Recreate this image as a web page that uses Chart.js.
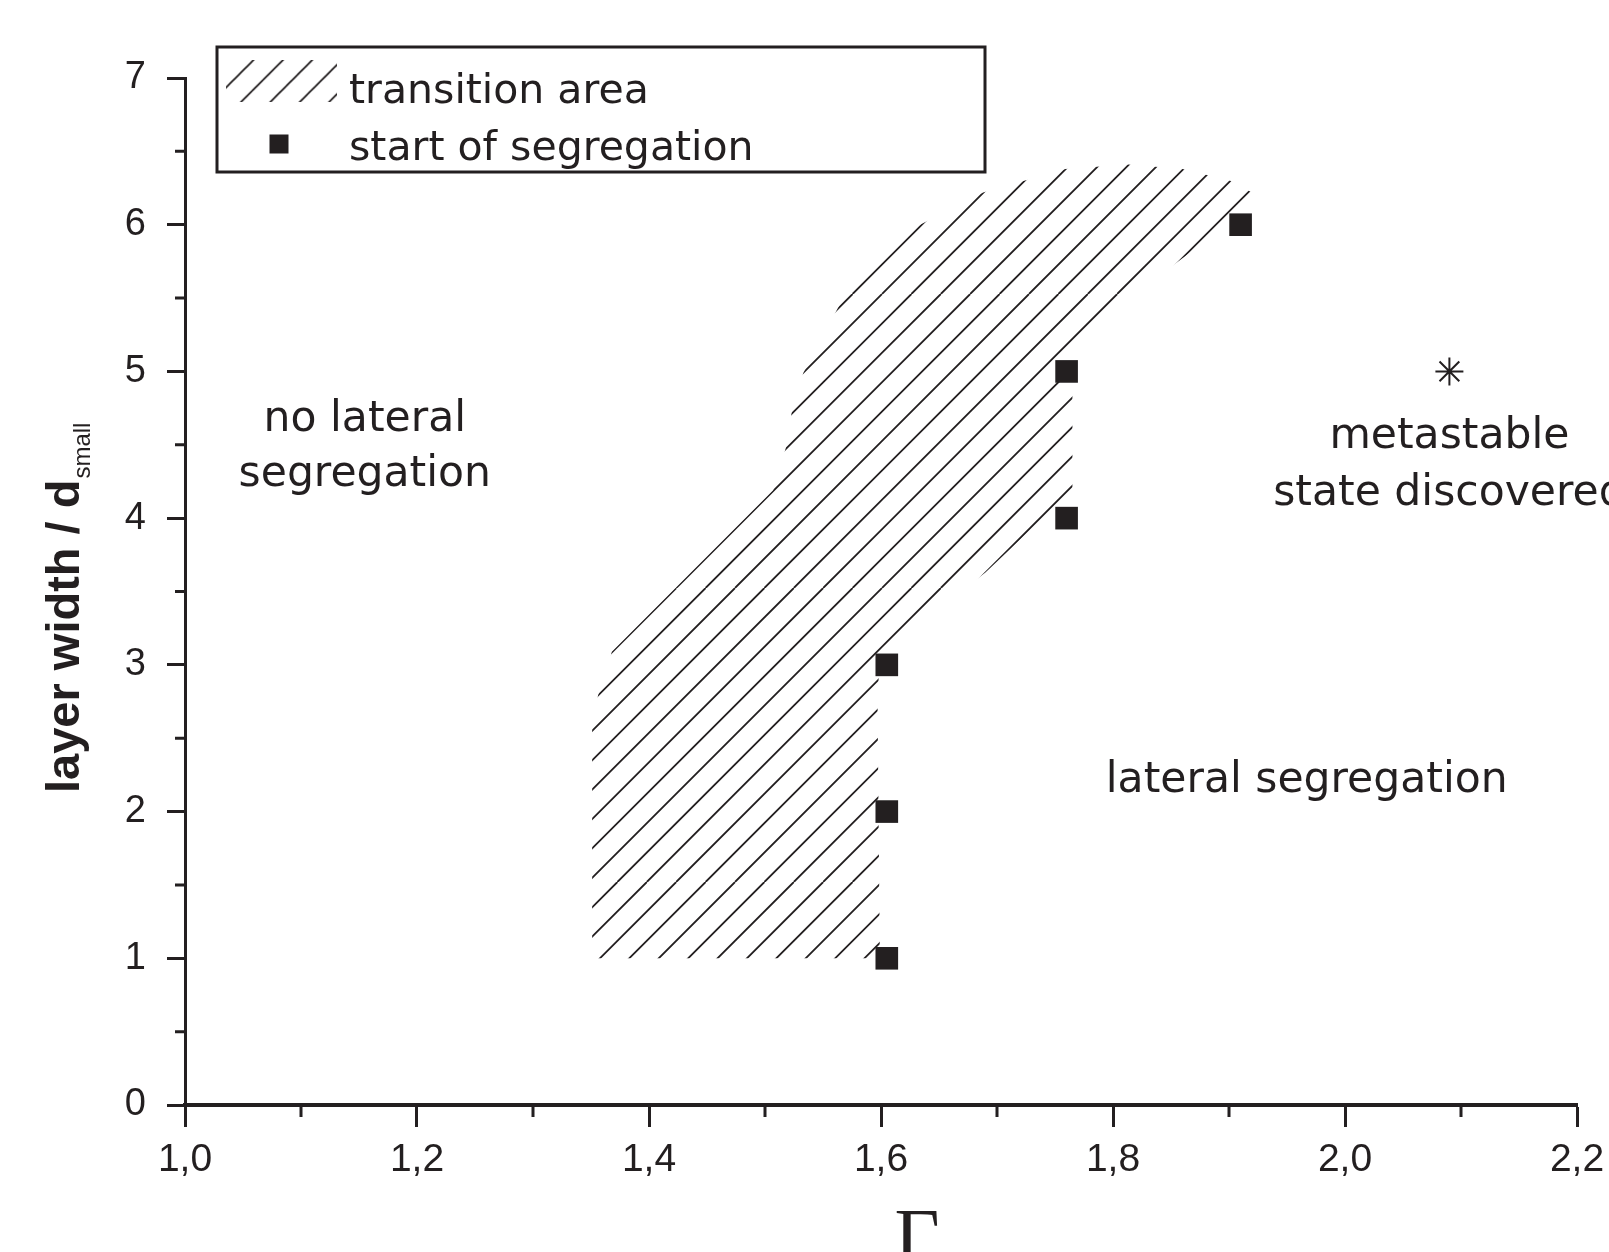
<!DOCTYPE html>
<html>
<head>
<meta charset="utf-8">
<script src="https://cdn.jsdelivr.net/npm/chart.js@4.4.1/dist/chart.umd.min.js"></script>
<style>
  html, body { margin: 0; padding: 0; background: #fff; }
  canvas { display: block; }
</style>
</head>
<body>
<canvas id="phaseChart" width="1609" height="1252"></canvas>
<script>
// --- values ---
const startGamma = [1.605, 1.605, 1.605, 1.76, 1.76, 1.91];
const startWidth = [1, 2, 3, 4, 5, 6];

const metastableGamma = [2.09];
const metastableWidth = [5];

// outline of the hatched transition area (clockwise from bottom-left)
const transitionGamma = [1.351, 1.351, 1.356, 1.368, 1.507, 1.518, 1.523, 1.533, 1.564, 1.624, 1.688, 1.759,
                         1.813, 1.860, 1.901, 1.929, 1.836, 1.753, 1.765, 1.765, 1.690, 1.599, 1.597, 1.599];
const transitionWidth = [1.00, 2.57, 2.79, 3.09, 4.19, 4.48, 4.72, 4.99, 5.45, 5.96, 6.22, 6.38,
                         6.41, 6.38, 6.30, 6.18, 5.63, 5.02, 4.94, 4.19, 3.63, 3.07, 2.76, 1.00];

const xMinorTicks = [1.1, 1.3, 1.5, 1.7, 1.9, 2.1];
const yMinorTicks = [0.5, 1.5, 2.5, 3.5, 4.5, 5.5, 6.5];

// region captions, placed in data coordinates (centre x, baseline y per line)
const captions = [
  { lines: ["no lateral", "segregation"], x: 1.155, y: [4.594, 4.219] },
  { lines: ["metastable", "state discovered"], x: 2.09, y: [4.478, 4.09] },
  { lines: ["lateral segregation"], x: 1.967, y: [2.134] }
];

const ink = "#231f20";
const textFont = '"DejaVu Sans", sans-serif';
const tickFont = '"Liberation Sans", Arial, sans-serif';

function makeHatch(ctx) {
  const size = 294, gap = 29.4;
  const c = document.createElement("canvas");
  c.width = size; c.height = size;
  const g = c.getContext("2d");
  g.strokeStyle = ink;
  g.lineWidth = 1.8;
  g.beginPath();
  for (let k = -11; k <= 11; k++) {
    g.moveTo(k * gap, size);
    g.lineTo(k * gap + size, 0);
  }
  g.stroke();
  return ctx.createPattern(c, "repeat");
}

const canvas = document.getElementById("phaseChart");
const hatch = makeHatch(canvas.getContext("2d"));

const extras = {
  id: "extras",
  afterDraw(chart) {
    const { ctx, scales: { x, y } } = chart;
    ctx.save();

    // minor ticks
    ctx.strokeStyle = ink;
    ctx.lineWidth = 3;
    ctx.beginPath();
    yMinorTicks.forEach(v => {
      const py = y.getPixelForValue(v);
      ctx.moveTo(y.right - 10, py);
      ctx.lineTo(y.right, py);
    });
    xMinorTicks.forEach(v => {
      const px = x.getPixelForValue(v);
      ctx.moveTo(px, x.top);
      ctx.lineTo(px, x.top + 12);
    });
    ctx.stroke();

    // captions
    ctx.fillStyle = ink;
    ctx.font = "42.5px " + textFont;
    ctx.textAlign = "center";
    ctx.textBaseline = "alphabetic";
    captions.forEach(c => {
      c.lines.forEach((t, i) => {
        ctx.fillText(t, x.getPixelForValue(c.x), y.getPixelForValue(c.y[i]));
      });
    });

    // legend box
    ctx.lineWidth = 3;
    ctx.strokeRect(217, 47, 768, 125);
    ctx.save();
    ctx.translate(19.5, 0);
    ctx.fillStyle = hatch;
    ctx.fillRect(226 - 19.5, 60, 111, 42);
    ctx.restore();
    ctx.fillStyle = ink;
    ctx.fillRect(279 - 9.5, 144 - 9.5, 19, 19);
    ctx.font = "41px " + textFont;
    ctx.textAlign = "left";
    ctx.fillText("transition area", 349, 103);
    ctx.fillText("start of segregation", 349, 160);

    // y axis title with subscript
    ctx.save();
    ctx.translate(79, 793);
    ctx.rotate(-Math.PI / 2);
    ctx.font = 'bold 47px "Liberation Sans", Arial, sans-serif';
    ctx.fillText("layer width / d", 0, 0);
    const w = ctx.measureText("layer width / d").width;
    ctx.font = '24px "Liberation Sans", Arial, sans-serif';
    ctx.fillText("small", w + 1, 11);
    ctx.restore();

    // x axis title
    ctx.font = '78px "Liberation Serif", "DejaVu Serif", serif';
    ctx.textAlign = "center";
    ctx.fillText("\u0393", 917, 1262);

    ctx.restore();
  }
};

new Chart(canvas, {
  type: "scatter",
  data: {
    datasets: [
      {
        label: "start of segregation",
        data: startGamma.map((g, i) => ({ x: g, y: startWidth[i] })),
        pointStyle: "rect",
        pointRadius: 16,
        pointHoverRadius: 16,
        backgroundColor: ink,
        borderColor: ink,
        borderWidth: 0
      },
      {
        label: "metastable state discovered",
        data: metastableGamma.map((g, i) => ({ x: g, y: metastableWidth[i] })),
        pointStyle: "star",
        pointRadius: 14,
        pointHoverRadius: 14,
        borderColor: ink,
        backgroundColor: ink,
        borderWidth: 2
      },
      {
        type: "line",
        label: "transition area",
        data: transitionGamma.map((g, i) => ({ x: g, y: transitionWidth[i] })),
        fill: "shape",
        backgroundColor: hatch,
        borderColor: "rgba(0,0,0,0)",
        borderWidth: 0,
        pointRadius: 0,
        tension: 0
      }
    ]
  },
  options: {
    responsive: false,
    animation: false,
    devicePixelRatio: 1,
    layout: { padding: { top: 78, right: 32, left: 0, bottom: 0 } },
    plugins: {
      legend: { display: false },
      tooltip: { enabled: false }
    },
    scales: {
      x: {
        type: "linear",
        min: 1.0,
        max: 2.2,
        afterFit(scale) {
          scale.height = 147;
          scale.paddingLeft = 0;
          scale.paddingRight = 0;
        },
        border: { display: true, color: ink, width: 4 },
        grid: { drawOnChartArea: false, drawTicks: true, tickLength: 22, tickWidth: 3, tickColor: ink },
        ticks: {
          stepSize: 0.2,
          autoSkip: false,
          maxRotation: 0,
          padding: 10,
          color: ink,
          font: { family: tickFont, size: 39 },
          callback: v => v.toFixed(1).replace(".", ",")
        }
      },
      y: {
        type: "linear",
        min: 0,
        max: 7,
        afterFit(scale) {
          scale.width = 185;
          scale.paddingTop = 0;
          scale.paddingBottom = 0;
        },
        border: { display: true, color: ink, width: 3 },
        grid: { drawOnChartArea: false, drawTicks: true, tickLength: 18, tickWidth: 3, tickColor: ink },
        ticks: {
          stepSize: 1,
          padding: 21,
          color: ink,
          font: { family: tickFont, size: 38 },
          callback: v => String(v)
        }
      }
    }
  },
  plugins: [extras]
});
</script>
</body>
</html>
